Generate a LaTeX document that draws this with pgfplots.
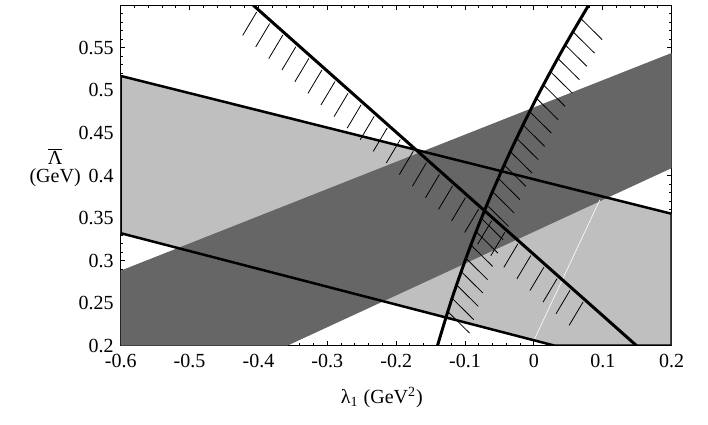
\documentclass[border=0pt]{standalone}
\usepackage{fontspec}
\setmainfont{Liberation Serif}
\usepackage{pgfplots}
\pgfplotsset{compat=1.18}
\definecolor{lightg}{gray}{0.75}
\definecolor{darkg}{gray}{0.4}
\begin{document}
\begin{tikzpicture}
\begin{axis}[name=ax, scale only axis, width=275.5pt, height=170.2pt,
  xmin=-0.6, xmax=0.2, ymin=0.2, ymax=0.6,
  xtick={-0.6,-0.5,-0.4,-0.3,-0.2,-0.1,0,0.1,0.2},
  ytick={0.2,0.25,0.3,0.35,0.4,0.45,0.5,0.55},
  minor x tick num=4,
  minor ytick={0.21,0.22,0.23,0.24,0.26,0.27,0.28,0.29,0.31,0.32,0.33,0.34,0.36,0.37,0.38,0.39,0.41,0.42,0.43,0.44,0.46,0.47,0.48,0.49,0.51,0.52,0.53,0.54,0.56,0.57,0.58,0.59},
  tick align=inside, major tick length=2.2pt, minor tick length=1.2pt,
  tick style={black, line width=0.5pt},
  axis line style={line width=0.7pt},
  /pgf/number format/assume math mode=true,
  ticklabel style={font=\fontsize{10}{12}\selectfont},
  xticklabel style={yshift=-0.8pt},
  label style={font=\fontsize{10}{12}\selectfont},
  xlabel={λ\textsubscript{1} (GeV\textsuperscript{2})},
  xlabel style={at={(axis description cs:0.474,-0.10)}, anchor=north},
  ylabel={$\overline{\hbox{Λ}}$\\[-3pt](GeV)},
  ylabel style={rotate=-90, align=center, at={(axis description cs:-0.119,0.5235)}, anchor=center},
  unbounded coords=jump,
]
% light band polygon
\addplot[fill=lightg, draw=none] coordinates {(-0.6,0.517) (0.2,0.355) (0.2,0.2) (0.0303,0.2) (-0.6,0.3322)} -- cycle;
% dark band
\addplot[fill=darkg, draw=none] coordinates {(-0.6,0.2882) (0.2,0.544) (0.2,0.4087) (-0.3582,0.2) (-0.6,0.2)} -- cycle;
% faint seam
\addplot[white, line width=0.3pt] coordinates {(0,0.2064) (0.0957,0.3714)};
% outline of light band
\addplot[black, line width=1.25pt, line join=miter] coordinates {(-0.6,0.517) (0.2,0.355) (0.2,0.2) (0.0303,0.2) (-0.6,0.3322)} -- cycle;
% line A
\addplot[black, line width=1.5pt] coordinates {(-0.4075,0.6) (0.149,0.2)};
% line B (curved)
\addplot[black, line width=1.5pt, smooth] coordinates {(0.0793,0.6) (0.0416,0.5479) (0.0025,0.4891) (-0.0331,0.4302) (-0.0653,0.3714) (-0.0942,0.3126) (-0.1197,0.2538) (-0.1401,0.2)};
% hatches of line A
\addplot[black, line width=0.4pt] coordinates {
(-0.4026,0.5921) (-0.4229,0.5646) (nan,nan)
(-0.3837,0.5785) (-0.4040,0.5510) (nan,nan)
(-0.3647,0.5649) (-0.3850,0.5374) (nan,nan)
(-0.3457,0.5513) (-0.3660,0.5238) (nan,nan)
(-0.3268,0.5376) (-0.3471,0.5101) (nan,nan)
(-0.3078,0.5240) (-0.3281,0.4965) (nan,nan)
(-0.2889,0.5104) (-0.3092,0.4829) (nan,nan)
(-0.2699,0.4967) (-0.2902,0.4692) (nan,nan)
(-0.2509,0.4831) (-0.2712,0.4556) (nan,nan)
(-0.2320,0.4695) (-0.2523,0.4420) (nan,nan)
(-0.2130,0.4559) (-0.2333,0.4284) (nan,nan)
(-0.1941,0.4422) (-0.2144,0.4147) (nan,nan)
(-0.1751,0.4286) (-0.1954,0.4011) (nan,nan)
(-0.1561,0.4150) (-0.1764,0.3875) (nan,nan)
(-0.1372,0.4013) (-0.1575,0.3738) (nan,nan)
(-0.1182,0.3877) (-0.1385,0.3602) (nan,nan)
(-0.0993,0.3741) (-0.1196,0.3466) (nan,nan)
(-0.0803,0.3605) (-0.1006,0.3330) (nan,nan)
(-0.0614,0.3468) (-0.0817,0.3193) (nan,nan)
(-0.0424,0.3332) (-0.0627,0.3057) (nan,nan)
(-0.0234,0.3196) (-0.0437,0.2921) (nan,nan)
(-0.0045,0.3060) (-0.0248,0.2785) (nan,nan)
(0.0145,0.2923) (-0.0058,0.2648) (nan,nan)
(0.0335,0.2787) (0.0132,0.2512) (nan,nan)
(0.0524,0.2651) (0.0321,0.2376) (nan,nan)
(0.0714,0.2514) (0.0511,0.2239)
};
% hatches of line B
\addplot[black, line width=0.4pt] coordinates {
(0.0686,0.5840) (0.0991,0.5596) (nan,nan)
(0.0574,0.5683) (0.0879,0.5439) (nan,nan)
(0.0463,0.5527) (0.0768,0.5283) (nan,nan)
(0.0355,0.5370) (0.0660,0.5126) (nan,nan)
(0.0250,0.5213) (0.0555,0.4969) (nan,nan)
(0.0147,0.5057) (0.0452,0.4813) (nan,nan)
(0.0046,0.4900) (0.0351,0.4656) (nan,nan)
(-0.0053,0.4743) (0.0252,0.4499) (nan,nan)
(-0.0149,0.4586) (0.0156,0.4342) (nan,nan)
(-0.0242,0.4430) (0.0063,0.4186) (nan,nan)
(-0.0333,0.4273) (-0.0028,0.4029) (nan,nan)
(-0.0422,0.4116) (-0.0117,0.3872) (nan,nan)
(-0.0508,0.3960) (-0.0203,0.3716) (nan,nan)
(-0.0592,0.3803) (-0.0287,0.3559) (nan,nan)
(-0.0674,0.3646) (-0.0369,0.3402) (nan,nan)
(-0.0753,0.3489) (-0.0448,0.3245) (nan,nan)
(-0.0830,0.3333) (-0.0525,0.3089) (nan,nan)
(-0.0905,0.3176) (-0.0600,0.2932) (nan,nan)
(-0.0977,0.3019) (-0.0672,0.2775) (nan,nan)
(-0.1046,0.2863) (-0.0741,0.2619) (nan,nan)
(-0.1113,0.2706) (-0.0808,0.2462) (nan,nan)
(-0.1178,0.2549) (-0.0873,0.2305) (nan,nan)
(-0.1241,0.2393) (-0.0936,0.2149)
};
\end{axis}
\path (ax.south west) ++(-60.35pt,-39.65pt);
\path (ax.north east) ++(18.15pt,2.65pt);
\end{tikzpicture}
\end{document}
